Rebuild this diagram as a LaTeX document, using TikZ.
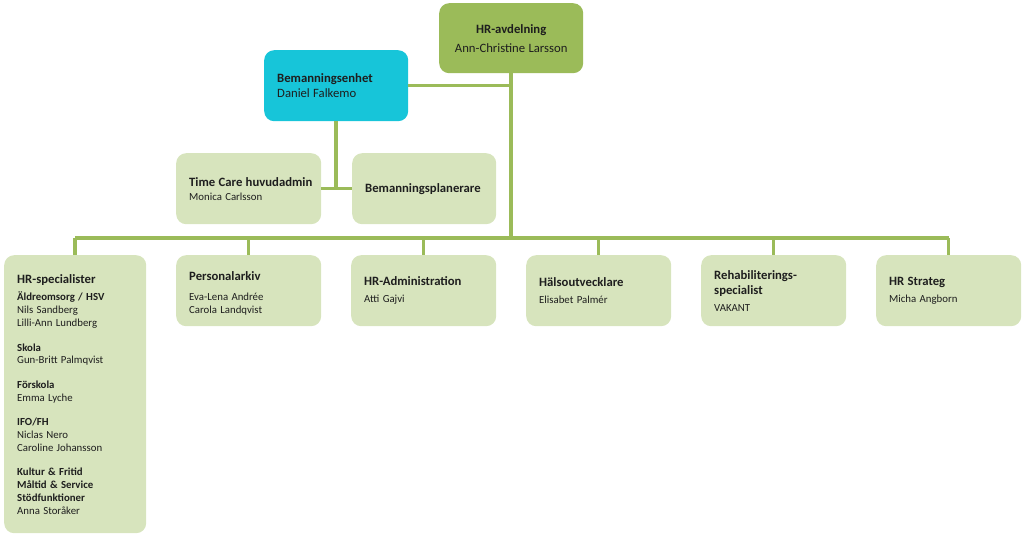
\documentclass[tikz,border=0pt]{standalone}
\usepackage{fontspec}
\setmainfont{Carlito}
\definecolor{hrgreen}{HTML}{9BBB59}
\definecolor{cyanbox}{HTML}{17C5D9}
\definecolor{lightbox}{HTML}{D7E4BD}
\definecolor{linecol}{HTML}{9BBB59}
\definecolor{txt}{HTML}{1E1E1E}
\newcommand\ttlfont{\fontsize{12.7}{15}\selectfont\bfseries}
\newcommand\namefont{\fontsize{10.8}{13}\selectfont}
\newcommand\subfont{\fontsize{10.8}{12.7}\selectfont}
\begin{document}
\begin{tikzpicture}[x=1pt,y=-1pt,
  conn/.style={draw=linecol, line width=3.5pt},
  box/.style={fill=lightbox, rounded corners=10pt, anchor=north west, align=left,
    inner xsep=13pt, inner ysep=0pt, text=txt},
  unitbox/.style={box, text width=119pt, minimum width=145pt, minimum height=71pt}]
\useasboundingbox (0,0) rectangle (1024,537);

% top
\node[box, fill=hrgreen, align=center, inner xsep=8pt, text width=128pt,
      minimum width=144pt, minimum height=70pt] (hr) at (439,3)
  {{\ttlfont HR-avdelning\par}\vspace{4pt}{\fontsize{12.7}{15}\selectfont \mbox{Ann-Christine Larsson}\par}};
\node[box, fill=cyanbox, text width=118pt, minimum width=144pt, minimum height=71pt] (bem) at (264,50)
  {{\fontsize{12.7}{15}\selectfont\textbf{Bemanningsenhet}\\Daniel Falkemo\par}};

% middle
\node[unitbox] (tc) at (176,153)
  {{\ttlfont \mbox{Time Care huvudadmin}\par}\vspace{1pt}{\namefont Monica Carlsson\par}};
\node[unitbox, text width=118pt, minimum width=144pt] (bp) at (352,153)
  {{\ttlfont \mbox{Bemanningsplanerare}\par}};

% bottom row
\node[box, text width=116pt, minimum width=142pt, minimum height=278pt] (hs) at (4,255)
  {{\ttlfont HR-specialister\par}\vspace{5pt}%
   {\subfont\textbf{Äldreomsorg / HSV}\\Nils Sandberg\\Lilli-Ann Lundberg\\[12pt]
    \textbf{Skola}\\Gun-Britt Palmqvist\\[12pt]
    \textbf{Förskola}\\Emma Lyche\\[12pt]
    \textbf{IFO/FH}\\Niclas Nero\\Caroline Johansson\\[12pt]
    \textbf{Kultur \& Fritid}\\\textbf{Måltid \& Service}\\\textbf{Stödfunktioner}\\Anna Storåker\par}};
\node[unitbox] (pa) at (176,255)
  {{\ttlfont\rule{0pt}{15pt}Personalarkiv\par}\vspace{7pt}{\namefont Eva-Lena Andrée\\Carola Landqvist\par}};
\node[unitbox] (ha) at (351,255)
  {{\ttlfont HR-Administration\par}\vspace{4pt}{\namefont Atti Gajvi\par}};
\node[unitbox] (hu) at (526,255)
  {{\ttlfont Hälsoutvecklare\par}\vspace{4pt}{\namefont Elisabet Palmér\par}};
\node[unitbox] (rs) at (701,255)
  {{\ttlfont Rehabiliterings-\\specialist\par}\vspace{4pt}{\namefont VAKANT\par}};
\node[unitbox] (st) at (876,255)
  {{\ttlfont HR Strateg\par}\vspace{4pt}{\namefont Micha Angborn\par}};

% connectors
\coordinate (busy) at (0,238);
\draw[conn] (hr.south) -- (hr.south |- busy);
\draw[conn] (bem.east) -- (bem.east -| hr.south);
\draw[conn] (bem.south) -- (bem.south |- tc.east);
\draw[conn] (tc.east) -- (bp.west);
\draw[conn] (hs.north |- busy) -- (st.north |- busy);
\foreach \b in {hs,pa,ha,hu,rs,st}
  \draw[conn] (\b.north |- busy) -- (\b.north);
\end{tikzpicture}
\end{document}
